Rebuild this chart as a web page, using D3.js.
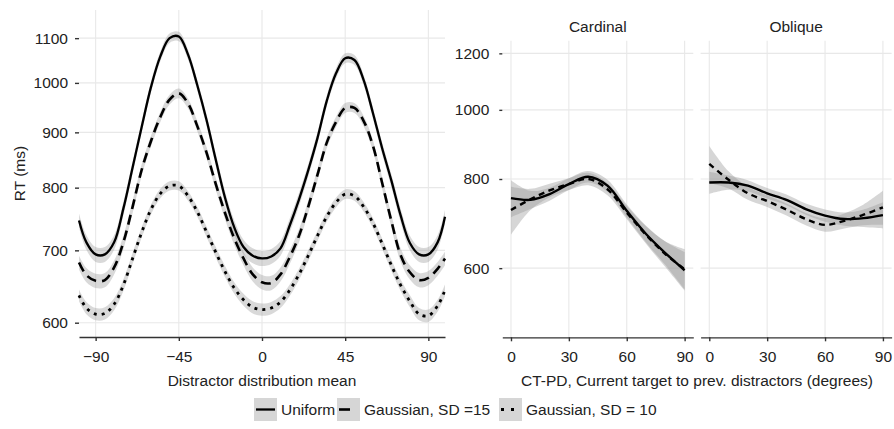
<!DOCTYPE html>
<html>
<head>
<meta charset="utf-8">
<script src="https://cdn.jsdelivr.net/npm/d3@7"></script>
<style>
  body { margin: 0; background: #fff; }
  svg { font-family: "Liberation Sans", Arial, sans-serif; }
</style>
</head>
<body>
<svg id="chart" width="894" height="429"></svg>
<script>
// ---- data ----

// left panel: RT against distractor distribution mean
const leftX = [-99, -95, -90, -85, -80, -75, -70, -65, -60, -55, -50, -45, -40, -35, -30, -25, -20, -15, -10, -5, 0,
               5, 10, 15, 20, 25, 30, 35, 40, 45, 50, 55, 60, 65, 70, 75, 80, 85, 90, 95, 99];
const uniformRT = [746, 712, 694, 694, 712, 765, 835, 912, 992, 1058, 1100, 1104, 1062, 995, 924, 849, 783, 735, 705, 692, 688,
                   691, 703, 738, 780, 830, 889, 962, 1020, 1054, 1050, 1006, 938, 870, 812, 754, 711, 694, 694, 712, 752];
const gauss15RT = [682, 664, 656, 657, 675, 712, 768, 832, 884, 930, 965, 978, 957, 912, 862, 806, 758, 718, 688, 665, 654,
                   653, 665, 690, 722, 768, 822, 880, 920, 948, 948, 922, 875, 808, 745, 693, 668, 657, 660, 673, 688];
const gauss10RT = [636, 619, 611, 612, 624, 650, 688, 728, 764, 790, 803, 803, 786, 760, 728, 697, 669, 646, 630, 620, 617,
                   619, 627, 643, 665, 692, 722, 752, 775, 789, 786, 768, 742, 710, 678, 650, 628, 611, 609, 622, 643];
// half width of the grey bands (ms), one per series
const leftBand = [11, 10, 8];

const leftTicksX = [-90, -45, 0, 45, 90];
const leftTicksY = [600, 700, 800, 900, 1000, 1100];

// right panels: RT against CT-PD, per facet
const rightX = [0, 10, 20, 30, 40, 50, 60, 70, 80, 90];
const cardinalUniform = [752, 748, 762, 787, 806, 783, 722, 670, 630, 596];
const cardinalUniformBand = [45, 22, 16, 15, 15, 15, 15, 18, 24, 36];
const cardinalGauss = [724, 749, 771, 787, 800, 774, 718, 668, 628, 598];
const cardinalGaussBand = [56, 26, 17, 15, 16, 15, 15, 19, 26, 40];
const obliqueUniform = [791, 791, 783, 764, 748, 726, 711, 703, 705, 712];
const obliqueUniformBand = [28, 18, 14, 13, 13, 13, 14, 15, 20, 30];
const obliqueGauss = [840, 798, 764, 745, 725, 703, 690, 699, 713, 730];
const obliqueGaussBand = [50, 22, 16, 14, 14, 14, 15, 17, 24, 40];

const facetNames = ["Cardinal", "Oblique"];
const rightTicksX = [0, 30, 60, 90];
const rightTicksY = [600, 800, 1000, 1200];

const legendLabels = ["Uniform", "Gaussian, SD =15", "Gaussian, SD = 10"];

// ---- styles ----
const gridColor = "#e8e8e8";
const inkColor = "#222";
const lineStyles = [
    {dash: null, width: 2.3},
    {dash: "10,6", width: 2.6},
    {dash: "3,5", width: 2.8}
];
const rightDash = "6,4.5";

const svg = d3.select("#chart");

// ---- left panel ----
const left = {x0: 79, x1: 445, y0: 10, y1: 337};
const xL = d3.scaleLinear().domain([-99, 99]).range([left.x0, left.x1]);
const yL = d3.scaleLog().domain([582, 1168]).range([left.y1, left.y0]);

let gLeft = svg.append("g");

// grid
gLeft.selectAll("line.gx").data(leftTicksX).join("line")
    .attr("x1", d => xL(d)).attr("x2", d => xL(d))
    .attr("y1", left.y0).attr("y2", left.y1)
    .attr("stroke", gridColor).attr("stroke-width", 1.1);
gLeft.selectAll("line.gy").data(leftTicksY).join("line")
    .attr("x1", left.x0).attr("x2", left.x1)
    .attr("y1", d => yL(d)).attr("y2", d => yL(d))
    .attr("stroke", gridColor).attr("stroke-width", 1.1);

const leftSeries = [uniformRT, gauss15RT, gauss10RT];

// ribbons first, lines on top
leftSeries.forEach((vals, i) => {
    let area = d3.area()
        .x((d, j) => xL(leftX[j]))
        .y0(d => yL(d - leftBand[i]))
        .y1(d => yL(d + leftBand[i]))
        .curve(d3.curveCatmullRom);
    gLeft.append("path")
        .attr("d", area(vals))
        .attr("fill", "#999")
        .attr("fill-opacity", 0.37);
});
leftSeries.forEach((vals, i) => {
    let line = d3.line()
        .x((d, j) => xL(leftX[j]))
        .y(d => yL(d))
        .curve(d3.curveCatmullRom);
    gLeft.append("path")
        .attr("d", line(vals))
        .attr("fill", "none")
        .attr("stroke", "#000")
        .attr("stroke-width", lineStyles[i].width)
        .attr("stroke-dasharray", lineStyles[i].dash);
});

// axes
function styleAxis(g, keepDomain) {
    if (keepDomain) {
        g.select(".domain").attr("stroke", "#333").attr("stroke-width", 1.3);
    } else {
        g.select(".domain").remove();
    }
    g.selectAll(".tick line").attr("stroke", "#333").attr("stroke-width", 1.4);
    g.selectAll(".tick text").attr("fill", inkColor).style("font-size", "15.5px");
}

gLeft.append("g")
    .attr("transform", "translate(0," + left.y1 + ")")
    .call(d3.axisBottom(xL).tickValues(leftTicksX).tickSize(4).tickSizeOuter(0).tickPadding(10))
    .call(g => styleAxis(g, true));

gLeft.append("g")
    .attr("transform", "translate(" + left.x0 + ",0)")
    .call(d3.axisLeft(yL).tickValues(leftTicksY).tickSize(4).tickPadding(7).tickFormat(d3.format("d")))
    .call(g => styleAxis(g, false));

svg.append("text")
    .attr("transform", "translate(20," + (left.y0 + left.y1) / 2 + ") rotate(-90)")
    .attr("dy", "0.35em")
    .attr("text-anchor", "middle")
    .attr("fill", inkColor)
    .style("font-size", "15.5px")
    .text("RT (ms)");

svg.append("text")
    .attr("x", xL(0)).attr("y", 386)
    .attr("text-anchor", "middle")
    .attr("fill", inkColor)
    .style("font-size", "15.5px")
    .text("Distractor distribution mean");

// ---- right panels ----
const rightTop = 40.7, rightBottom = 337.3;
const yR = d3.scaleLog().domain([480, 1250]).range([rightBottom, rightTop]);
const facetLeft = [502.3, 700.6];
const facetWidth = 191;
const facetData = [
    [[cardinalUniform, cardinalUniformBand], [cardinalGauss, cardinalGaussBand]],
    [[obliqueUniform, obliqueUniformBand], [obliqueGauss, obliqueGaussBand]]
];

facetNames.forEach((name, f) => {
    let xR = d3.scaleLinear().domain([-4.5, 94.5]).range([facetLeft[f], facetLeft[f] + facetWidth]);
    let g = svg.append("g");

    g.selectAll("line.gx").data(rightTicksX).join("line")
        .attr("x1", d => xR(d)).attr("x2", d => xR(d))
        .attr("y1", rightTop).attr("y2", rightBottom)
        .attr("stroke", gridColor).attr("stroke-width", 1.1);
    g.selectAll("line.gy").data(rightTicksY).join("line")
        .attr("x1", xR.range()[0]).attr("x2", xR.range()[1])
        .attr("y1", d => yR(d)).attr("y2", d => yR(d))
        .attr("stroke", gridColor).attr("stroke-width", 1.1);

    facetData[f].forEach(([vals, band]) => {
        let area = d3.area()
            .x((d, j) => xR(rightX[j]))
            .y0((d, j) => yR(d - band[j]))
            .y1((d, j) => yR(d + band[j]))
            .curve(d3.curveCatmullRom);
        g.append("path")
            .attr("d", area(vals))
            .attr("fill", "#999")
            .attr("fill-opacity", 0.4);
    });
    facetData[f].forEach(([vals], s) => {
        let line = d3.line()
            .x((d, j) => xR(rightX[j]))
            .y(d => yR(d))
            .curve(d3.curveCatmullRom);
        g.append("path")
            .attr("d", line(vals))
            .attr("fill", "none")
            .attr("stroke", "#000")
            .attr("stroke-width", 2.4)
            .attr("stroke-dasharray", s === 0 ? null : rightDash);
    });

    g.append("g")
        .attr("transform", "translate(0," + rightBottom + ")")
        .call(d3.axisBottom(xR).tickValues(rightTicksX).tickSize(4).tickSizeOuter(0).tickPadding(10))
        .call(a => styleAxis(a, true));

    if (f === 0) {
        g.append("g")
            .attr("transform", "translate(" + xR.range()[0] + ",0)")
            .call(d3.axisLeft(yR).tickValues(rightTicksY).tickSize(3).tickPadding(10).tickFormat(d3.format("d")))
            .call(a => styleAxis(a, false));
    }

    // strip title
    g.append("text")
        .attr("x", (xR.range()[0] + xR.range()[1]) / 2)
        .attr("y", 32)
        .attr("text-anchor", "middle")
        .attr("fill", inkColor)
        .style("font-size", "15.5px")
        .text(name);
});

svg.append("text")
    .attr("x", 697).attr("y", 386)
    .attr("text-anchor", "middle")
    .attr("fill", inkColor)
    .style("font-size", "15.5px")
    .text("CT-PD, Current target to prev. distractors (degrees)");

// ---- legend ----
const keyX = [254, 337, 499];
const keyW = 23, keyH = 23, keyY = 398;
const legendDash = [null, "11,20", "3,7"];

let legend = svg.append("g");
legendLabels.forEach((label, i) => {
    legend.append("rect")
        .attr("x", keyX[i]).attr("y", keyY)
        .attr("width", keyW).attr("height", keyH)
        .attr("fill", "#d6d6d6");
    legend.append("line")
        .attr("x1", keyX[i] + 2).attr("x2", keyX[i] + keyW - 2)
        .attr("y1", keyY + keyH / 2).attr("y2", keyY + keyH / 2)
        .attr("stroke", "#000")
        .attr("stroke-width", lineStyles[i].width)
        .attr("stroke-dasharray", legendDash[i]);
    legend.append("text")
        .attr("x", keyX[i] + keyW + 4)
        .attr("y", keyY + keyH / 2)
        .attr("dy", "0.35em")
        .attr("fill", inkColor)
        .style("font-size", "15.5px")
        .text(label);
});
</script>
</body>
</html>
